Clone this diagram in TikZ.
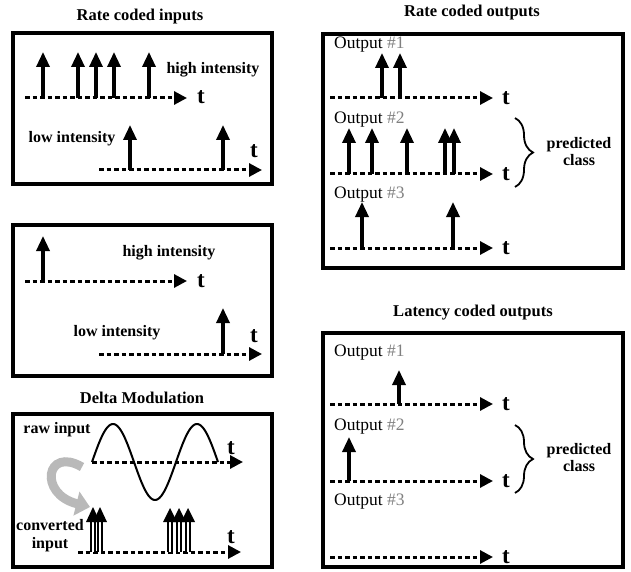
\documentclass[tikz,border=0pt]{standalone}
\usepackage{fontspec}
\setmainfont{Liberation Serif}
\usetikzlibrary{arrows.meta,decorations.pathreplacing}
\tikzset{
  panel/.style={line width=3.2pt},
  ttl/.style={font=\fontsize{16.5}{18}\selectfont\bfseries},
  lbl/.style={font=\fontsize{16}{18}\selectfont\bfseries},
  outlbl/.style={font=\fontsize{17.5}{19}\selectfont, anchor=west, inner sep=0pt},
  tlbl/.style={font=\fontsize{23}{25}\selectfont\bfseries, inner sep=0pt},
  axis/.style={line width=3pt, dash pattern=on 4.5pt off 3pt, -{Triangle[length=13pt,width=13pt]}},
  spike/.style={line width=3.3pt, -{Triangle[length=15pt,width=13pt]}},
  hollow/.style={line width=1.8pt, double, double distance=2pt},
  brc/.style={line width=1.8pt, decorate, decoration={brace, amplitude=18pt}},
}
\newcommand{\spikes}[3]{\foreach \sx in {#1} {\draw[spike] (\sx,#2) -- (\sx,#3);}}
\begin{document}
\begin{tikzpicture}[x=1pt,y=-1pt]
\useasboundingbox (0,0) rectangle (631,572);
% ---------- Rate coded inputs
\node[ttl] (t1) at (140,17) {Rate coded inputs};
\draw[panel] (13,33) rectangle (272,184);
\coordinate (a1s) at (25,98); \coordinate (a1e) at (187,98);
\draw[axis] (a1s) -- (a1e);
\node[tlbl] (a1t) at (201,97) {t};
\spikes{43,78,96,114,149}{98}{52}
\node[lbl] (hi1) at (213,70) {high intensity};
\coordinate (a2s) at (99,170); \coordinate (a2e) at (262,170);
\draw[axis] (a2s) -- (a2e);
\spikes{130,223}{170}{125}
\node[lbl] (lo1) at (72,139) {low intensity};
\node[tlbl] (a2t) at (254,151) {t};
% ---------- Latency inputs
\draw[panel] (13,225) rectangle (272,376);
\coordinate (b1s) at (25,281); \coordinate (b1e) at (187,281);
\draw[axis] (b1s) -- (b1e);
\node[tlbl] (b1t) at (201,281) {t};
\spikes{43}{281}{236}
\node[lbl] (hi2) at (169,253) {high intensity};
\coordinate (b2s) at (99,354); \coordinate (b2e) at (262,354);
\draw[axis] (b2s) -- (b2e);
\spikes{223}{354}{308}
\node[lbl] (lo2) at (117,333) {low intensity};
\node[tlbl] (b2t) at (254,336) {t};
% ---------- Delta modulation
\node[ttl] (t3) at (142,398) {Delta Modulation};
\draw[panel] (13,414) rectangle (272,567);
\node[lbl] (raw) at (57,430) {raw input};
\coordinate (c1s) at (92,462); \coordinate (c1e) at (243,462);
\draw[axis] (c1s) -- (c1e);
\node[tlbl] (c1t) at (231,448) {t};
\draw[line width=2pt] plot[domain=0:126, samples=90, smooth] ({92+\x},{462-38*sin(\x/84*360)});
\draw[line width=9pt, gray!55, -{Triangle[length=14pt,width=24pt]}] (82,467) .. controls (46,446) and (38,494) .. (90,507);
\coordinate (c2s) at (78,552); \coordinate (c2e) at (241,552);
\draw[axis] (c2s) -- (c2e);
\node[tlbl] (c2t) at (231,537) {t};
\foreach \sx/\sy in {93/507,100/507,170/508,179/508,188/508} {
  \draw[hollow] (\sx,552) -- (\sx,518);
  \fill (\sx-7,522) -- (\sx,\sy) -- (\sx+7,522) -- cycle;
}
\node[lbl] (conv) at (50,525) {converted};
\node[lbl] (inp) at (50,545) {input};
% ---------- Rate coded outputs
\node[ttl] (t4) at (472,13) {Rate coded outputs};
\draw[panel] (323,34) rectangle (623,268);
\node[outlbl] (o1) at (334,45) {Output \textcolor{gray}{\#1}};
\coordinate (d1s) at (330,98); \coordinate (d1e) at (493,98);
\draw[axis] (d1s) -- (d1e);
\node[tlbl] (d1t) at (506,98) {t};
\spikes{382,400}{98}{53}
\node[outlbl] (o2) at (334,120) {Output \textcolor{gray}{\#2}};
\coordinate (d2s) at (330,174); \coordinate (d2e) at (493,174);
\draw[axis] (d2s) -- (d2e);
\node[tlbl] (d2t) at (506,174) {t};
\spikes{349,372,407,445,454}{174}{128}
\node[outlbl] (o3) at (334,195) {Output \textcolor{gray}{\#3}};
\coordinate (d3s) at (330,248); \coordinate (d3e) at (493,248);
\draw[axis] (d3s) -- (d3e);
\node[tlbl] (d3t) at (506,248) {t};
\spikes{362,453}{248}{202}
\coordinate (br1a) at (515,118); \coordinate (br1b) at (515,187);
\draw[brc] (br1a) -- (br1b);
\node[lbl, align=center] (pc1) at (579,152) {predicted\\[-1pt]class};
% ---------- Latency coded outputs
\node[ttl] (t5) at (473,313) {Latency coded outputs};
\draw[panel] (323,333) rectangle (623,567);
\node[outlbl] (p1) at (334,353) {Output \textcolor{gray}{\#1}};
\coordinate (e1s) at (330,404); \coordinate (e1e) at (493,404);
\draw[axis] (e1s) -- (e1e);
\node[tlbl] (e1t) at (506,404) {t};
\spikes{399}{404}{370}
\node[outlbl] (p2) at (334,427) {Output \textcolor{gray}{\#2}};
\coordinate (e2s) at (330,481); \coordinate (e2e) at (493,481);
\draw[axis] (e2s) -- (e2e);
\node[tlbl] (e2t) at (506,481) {t};
\spikes{349}{481}{437}
\node[outlbl] (p3) at (334,502) {Output \textcolor{gray}{\#3}};
\coordinate (e3s) at (330,557); \coordinate (e3e) at (493,557);
\draw[axis] (e3s) -- (e3e);
\node[tlbl] (e3t) at (506,557) {t};
\coordinate (br2a) at (515,425); \coordinate (br2b) at (515,493);
\draw[brc] (br2a) -- (br2b);
\node[lbl, align=center] (pc2) at (579,458) {predicted\\[-1pt]class};
\end{tikzpicture}
\end{document}
